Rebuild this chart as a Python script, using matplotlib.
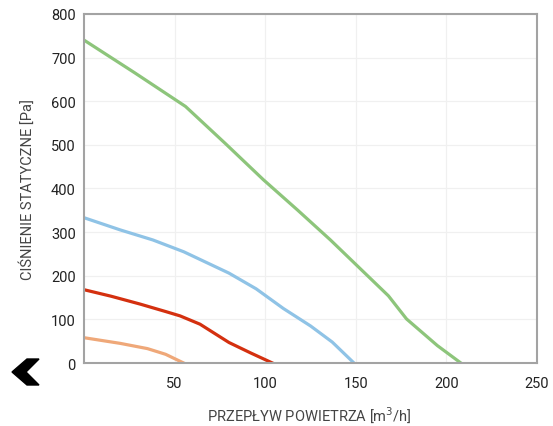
import matplotlib
matplotlib.use('Agg')
from matplotlib import pyplot as plt
from matplotlib.patches import Polygon

# krzywe wentylatora
green_x = [0, 28, 56, 78, 99, 118, 136, 152, 168, 178, 195, 208]
green_y = [740, 665, 588, 503, 420, 350, 282, 218, 154, 101, 40, 0]
blue_x = [0, 20, 38, 55, 80, 95, 110, 125, 137, 149]
blue_y = [333, 305, 282, 255, 206, 170, 125, 85, 48, 0]
red_x = [0, 15, 31, 45, 53, 64, 72, 80, 92, 104]
red_y = [168, 153, 135, 118, 108, 89, 68, 47, 23, 0]
orange_x = [0, 20, 35, 45, 55]
orange_y = [58, 45, 33, 20, 0]

xticks = [50, 100, 150, 200, 250]
yticks = [0, 100, 200, 300, 400, 500, 600, 700, 800]

plt.rcParams['font.family'] = ['Roboto', 'DejaVu Sans']
plt.rcParams['font.size'] = 10.5

fig = plt.figure(figsize=(5.53, 4.27), dpi=100)
ax = fig.add_axes([0.152, 0.1475, 0.819, 0.8175])

ax.plot(green_x, green_y, color='#8dc57b', lw=2.3)
ax.plot(blue_x, blue_y, color='#8fc3e6', lw=2.3)
ax.plot(red_x, red_y, color='#d4300f', lw=2.3)
ax.plot(orange_x, orange_y, color='#efa879', lw=2.3)

ax.set_xlim(0, 250)
ax.set_ylim(0, 800)
ax.set_xticks(xticks)
ax.set_yticks(yticks)
ax.grid(True, color='#f0f0f0', lw=0.9)
ax.set_axisbelow(True)
ax.tick_params(length=0, colors='#222222')
ax.tick_params(axis='x', pad=9)
ax.tick_params(axis='y', pad=6)
for s in ax.spines.values():
    s.set_color('#a3a3a3')
    s.set_linewidth(1.5)

fig.text(0.56, 0.028, 'PRZEPŁYW POWIETRZA [m$^3$/h]', ha='center', va='center',
         color='#444444', fontsize=10.5)
fig.text(0.049, 0.555, 'CIŚNIENIE STATYCZNE [Pa]', ha='center', va='center',
         rotation=90, color='#444444', fontsize=10.5)

# strzałka w lewym dolnym rogu
W, H = 553, 427
pts = [(12, 373), (27, 360), (39, 360), (26, 373), (39, 386), (27, 386)]
fig.patches.append(Polygon([(x / W, 1 - y / H) for x, y in pts], closed=True,
                           transform=fig.transFigure, color='black'))

fig.savefig('out.png', dpi=100)
